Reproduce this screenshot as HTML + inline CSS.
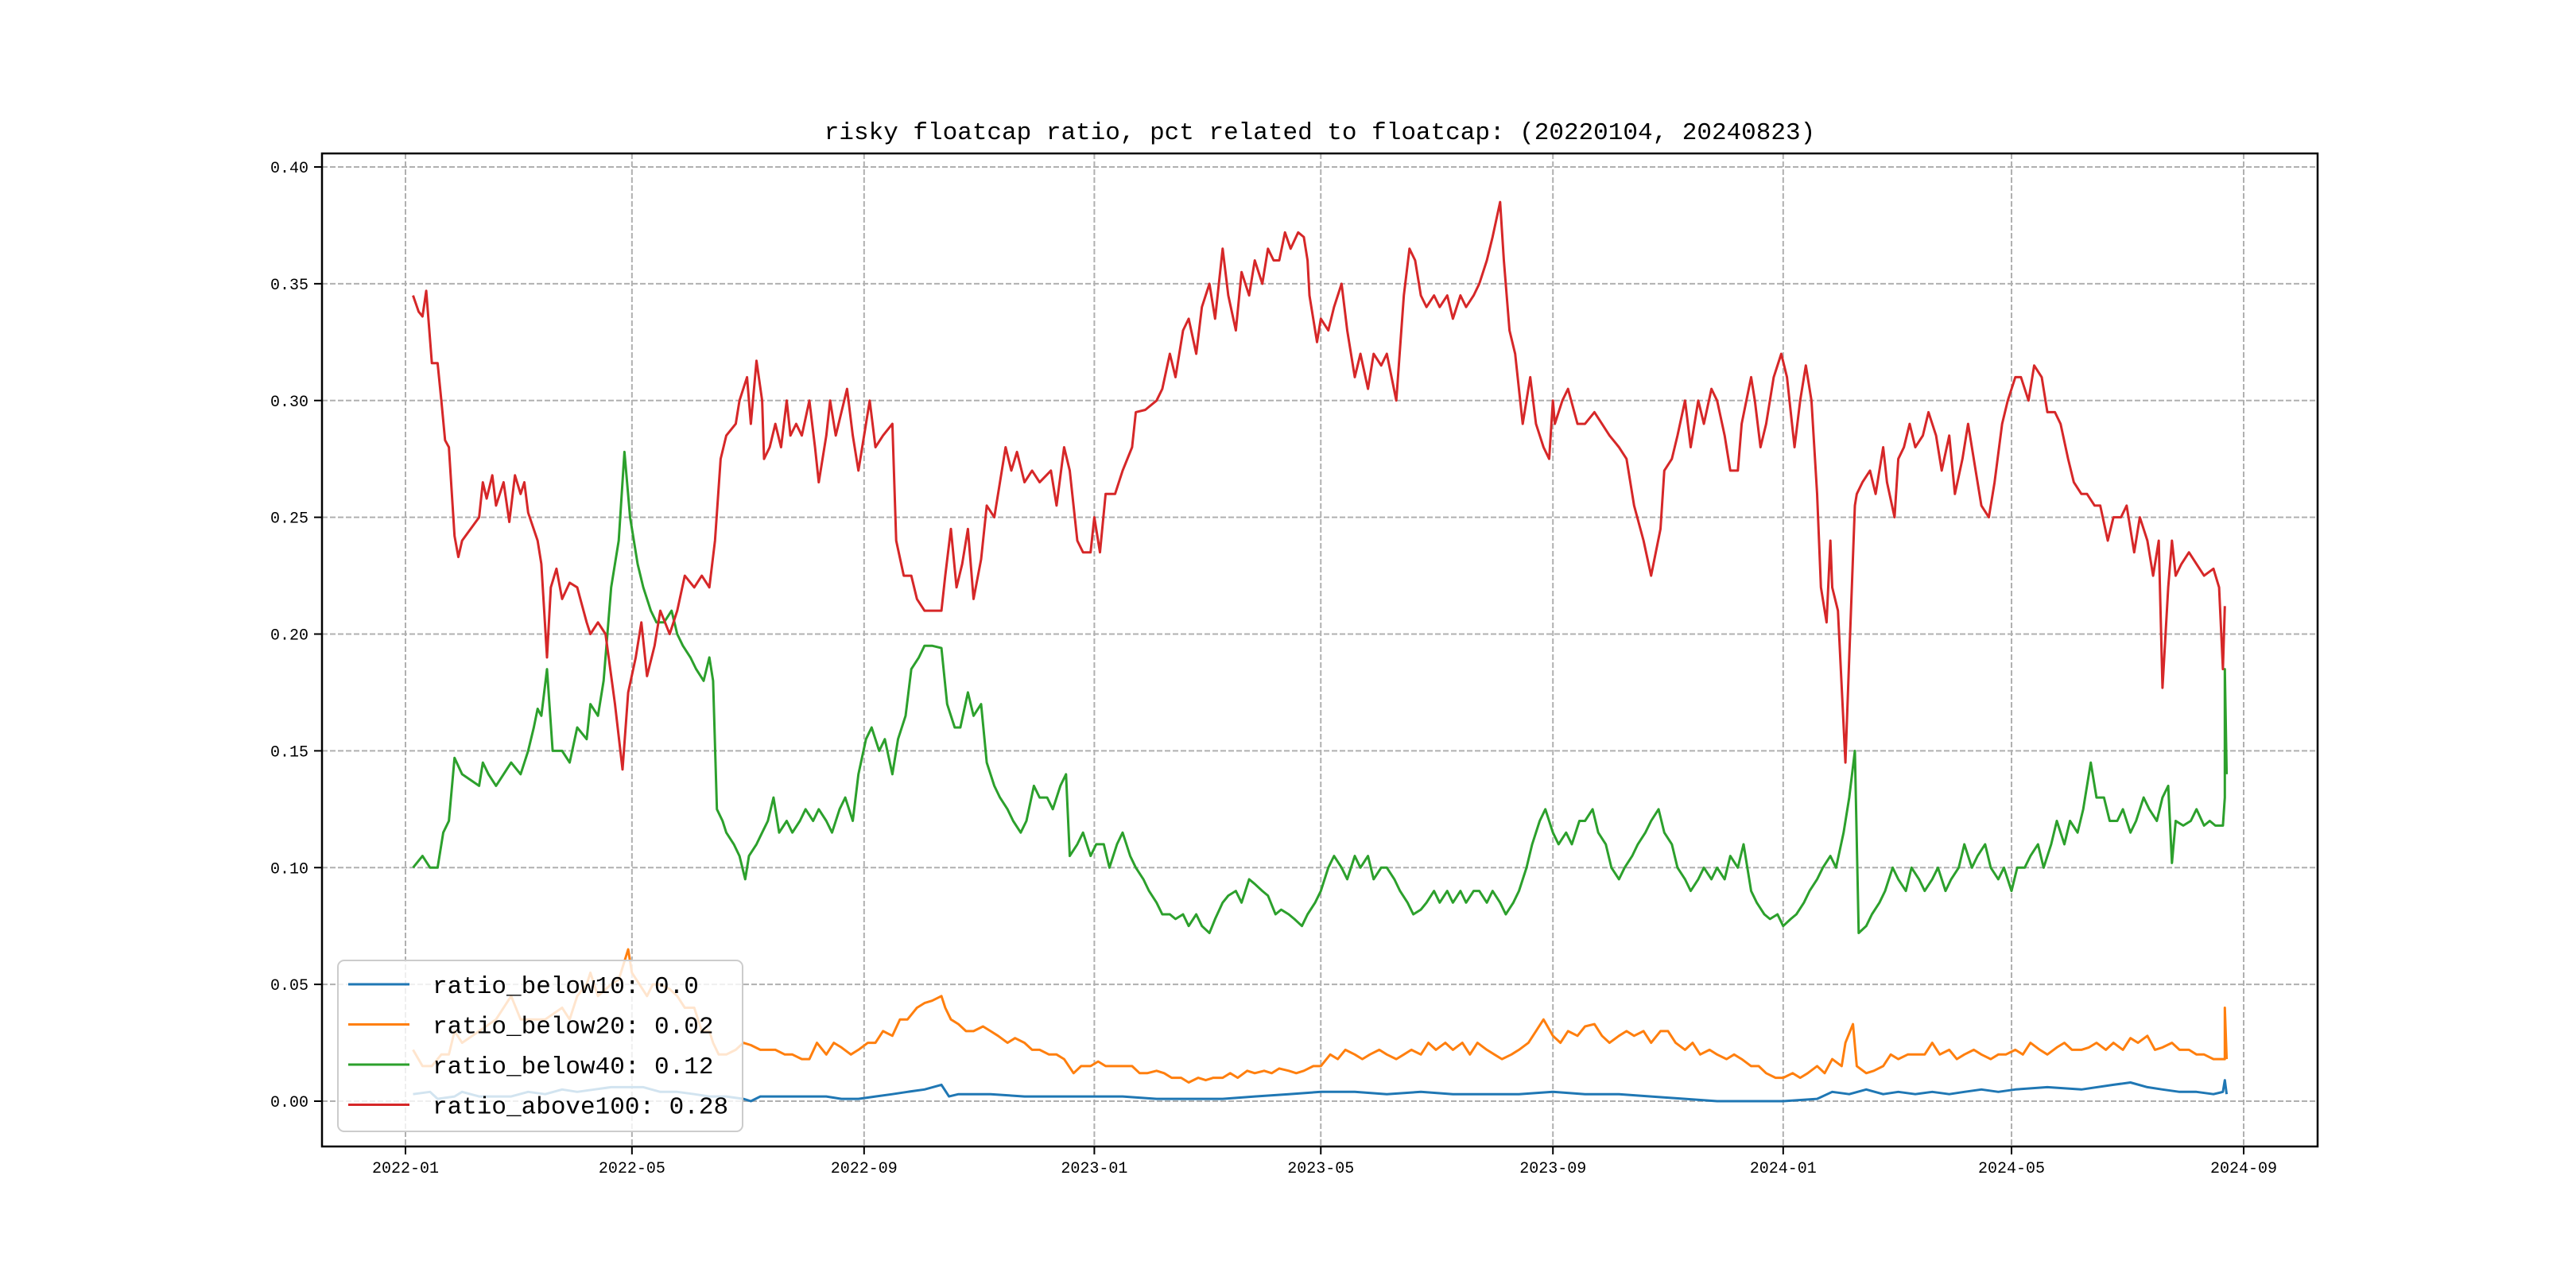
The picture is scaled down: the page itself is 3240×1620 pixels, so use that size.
<!DOCTYPE html>
<html><head><meta charset="utf-8"><style>
html,body{margin:0;padding:0;background:#fff;}
svg{display:block;}
text{font-family:"Liberation Mono","Noto Sans CJK SC",monospace;fill:#000;}
</style></head><body>
<svg id="chart" width="3240" height="1620" viewBox="0 0 3240 1620" xmlns="http://www.w3.org/2000/svg">
<rect x="0" y="0" width="3240" height="1620" fill="#fff"/>
<text x="1660" y="175" text-anchor="middle" font-size="31">risky floatcap ratio, pct related to floatcap: (20220104, 20240823)</text>
<g id="grid"></g>
<g id="series"></g>
<rect x="405" y="193" width="2510" height="1249" fill="none" stroke="#000" stroke-width="2.5"/>
<g id="axes"></g>
<g id="legend"></g>
</svg>
<script>
const xTickDays=[0,120,243,365,485,608,730,851,974];
const xTickLabels=["2022-01","2022-05","2022-09","2023-01","2023-05","2023-09","2024-01","2024-05","2024-09"];
const yTicks=[0,0.05,0.10,0.15,0.20,0.25,0.30,0.35,0.40];
const yTickLabels=["0.00","0.05","0.10","0.15","0.20","0.25","0.30","0.35","0.40"];
const seriesNames=["ratio_below10: 0.0","ratio_below20: 0.02","ratio_below40: 0.12","ratio_above100: 0.28"];
const seriesColors=["#1f77b4","#ff7f0e","#2ca02c","#d62728"];

const redDays=[4,7,9,11,14,17,19,21,23,26,28,30,39,41,43,46,48,52,55,58,61,63,65,70,72,75,77,80,83,87,91,96,98,102,106,111,115,118,122,125,128,132,135,140,144,148,153,157,161,164,167,170,175,177,181,183,186,189,190,193,196,199,202,204,207,210,214,217,219,223,225,228,231,234,237,240,244,246,249,253,258,260,264,268,271,275,279,284,286,289,292,295,298,301,305,308,312,315,318,321,324,328,332,336,342,345,349,352,356,359,363,365,368,371,376,380,385,387,392,398,401,405,408,412,415,419,422,426,429,433,436,440,443,447,450,454,457,460,463,466,469,473,476,478,479,483,485,489,492,496,499,503,506,510,513,517,520,525,529,532,535,538,541,545,548,552,555,559,562,566,569,573,576,580,582,585,588,592,596,599,603,606,608,609,613,616,621,625,630,634,638,643,647,651,656,660,665,667,671,674,678,681,685,688,692,695,699,702,706,708,713,715,718,721,725,729,732,736,739,742,745,748,750,753,755,756,759,763,765,768,769,772,776,779,783,785,789,791,794,797,800,804,807,811,814,818,821,825,828,832,835,839,842,846,849,853,856,860,863,867,870,874,877,881,884,888,891,895,898,902,905,909,912,916,919,923,926,929,931,934,936,938,941,945,949,953,958,961,963,964,965];
const redVals=[0.345,0.338,0.336,0.347,0.316,0.316,0.300,0.283,0.280,0.242,0.233,0.240,0.250,0.265,0.258,0.268,0.255,0.265,0.248,0.268,0.260,0.265,0.252,0.240,0.230,0.190,0.220,0.228,0.215,0.222,0.220,0.205,0.200,0.205,0.200,0.170,0.142,0.175,0.190,0.205,0.182,0.195,0.210,0.200,0.210,0.225,0.220,0.225,0.220,0.240,0.275,0.285,0.290,0.300,0.310,0.290,0.317,0.300,0.275,0.280,0.290,0.280,0.300,0.285,0.290,0.285,0.300,0.280,0.265,0.285,0.300,0.285,0.295,0.305,0.285,0.270,0.290,0.300,0.280,0.285,0.290,0.240,0.225,0.225,0.215,0.210,0.210,0.210,0.225,0.245,0.220,0.230,0.245,0.215,0.232,0.255,0.250,0.265,0.280,0.270,0.278,0.265,0.270,0.265,0.270,0.255,0.280,0.270,0.240,0.235,0.235,0.250,0.235,0.260,0.260,0.270,0.280,0.295,0.296,0.300,0.305,0.320,0.310,0.330,0.335,0.320,0.340,0.350,0.335,0.365,0.345,0.330,0.355,0.345,0.360,0.350,0.365,0.360,0.360,0.372,0.365,0.372,0.370,0.360,0.345,0.325,0.335,0.330,0.340,0.350,0.330,0.310,0.320,0.305,0.320,0.315,0.320,0.300,0.345,0.365,0.360,0.345,0.340,0.345,0.340,0.345,0.335,0.345,0.340,0.345,0.350,0.360,0.370,0.385,0.360,0.330,0.320,0.290,0.310,0.290,0.280,0.275,0.300,0.290,0.300,0.305,0.290,0.290,0.295,0.290,0.285,0.280,0.275,0.255,0.240,0.225,0.245,0.270,0.275,0.285,0.300,0.280,0.300,0.290,0.305,0.300,0.285,0.270,0.270,0.290,0.310,0.300,0.280,0.290,0.310,0.320,0.310,0.280,0.300,0.315,0.300,0.260,0.220,0.205,0.240,0.220,0.210,0.145,0.190,0.255,0.260,0.265,0.270,0.260,0.280,0.265,0.250,0.275,0.280,0.290,0.280,0.285,0.295,0.285,0.270,0.285,0.260,0.275,0.290,0.270,0.255,0.250,0.265,0.290,0.300,0.310,0.310,0.300,0.315,0.310,0.295,0.295,0.290,0.275,0.265,0.260,0.260,0.255,0.255,0.240,0.250,0.250,0.255,0.235,0.250,0.240,0.225,0.240,0.177,0.220,0.240,0.225,0.230,0.235,0.230,0.225,0.228,0.220,0.185,0.212];

const greenDays=[4,9,13,17,20,23,26,30,39,41,44,48,52,56,61,65,68,70,72,75,78,83,87,91,96,98,102,105,109,113,116,119,123,126,130,133,137,141,144,147,151,154,158,161,163,165,168,170,174,177,180,182,186,189,192,195,198,202,205,209,212,216,219,223,226,230,233,237,240,244,247,251,254,258,261,265,268,272,275,279,284,287,291,294,298,301,305,308,312,315,319,322,326,329,333,336,340,343,347,350,352,356,359,363,366,370,373,377,380,384,387,391,394,398,401,405,408,412,415,419,422,426,429,433,436,440,443,447,450,454,457,461,464,468,471,475,478,482,485,489,492,496,499,503,506,510,513,517,520,524,527,531,534,538,541,545,548,552,555,559,562,566,569,573,576,580,583,587,590,594,597,601,604,608,611,615,618,622,625,629,632,636,639,643,646,650,653,657,660,664,667,671,674,678,681,685,688,692,695,699,702,706,709,713,716,720,723,727,730,734,737,741,744,748,751,755,758,762,765,768,770,774,777,781,784,788,791,795,798,802,805,809,812,816,819,823,826,830,833,837,840,844,847,851,854,858,861,865,868,872,875,879,882,886,889,893,896,900,903,907,910,914,917,921,924,928,931,934,936,938,942,946,949,953,956,959,961,963,964,964,965,965];
const greenVals=[0.100,0.105,0.100,0.100,0.115,0.120,0.147,0.140,0.135,0.145,0.140,0.135,0.140,0.145,0.140,0.150,0.160,0.168,0.165,0.185,0.150,0.150,0.145,0.160,0.155,0.170,0.165,0.180,0.220,0.240,0.278,0.250,0.230,0.220,0.210,0.205,0.205,0.210,0.200,0.195,0.190,0.185,0.180,0.190,0.180,0.125,0.120,0.115,0.110,0.105,0.095,0.105,0.110,0.115,0.120,0.130,0.115,0.120,0.115,0.120,0.125,0.120,0.125,0.120,0.115,0.125,0.130,0.120,0.140,0.155,0.160,0.150,0.155,0.140,0.155,0.165,0.185,0.190,0.195,0.195,0.194,0.170,0.160,0.160,0.175,0.165,0.170,0.145,0.135,0.130,0.125,0.120,0.115,0.120,0.135,0.130,0.130,0.125,0.135,0.140,0.105,0.110,0.115,0.105,0.110,0.110,0.100,0.110,0.115,0.105,0.100,0.095,0.090,0.085,0.080,0.080,0.078,0.080,0.075,0.080,0.075,0.072,0.078,0.085,0.088,0.090,0.085,0.095,0.093,0.090,0.088,0.080,0.082,0.080,0.078,0.075,0.080,0.085,0.090,0.100,0.105,0.100,0.095,0.105,0.100,0.105,0.095,0.100,0.100,0.095,0.090,0.085,0.080,0.082,0.085,0.090,0.085,0.090,0.085,0.090,0.085,0.090,0.090,0.085,0.090,0.085,0.080,0.085,0.090,0.100,0.110,0.120,0.125,0.115,0.110,0.115,0.110,0.120,0.120,0.125,0.115,0.110,0.100,0.095,0.100,0.105,0.110,0.115,0.120,0.125,0.115,0.110,0.100,0.095,0.090,0.095,0.100,0.095,0.100,0.095,0.105,0.100,0.110,0.090,0.085,0.080,0.078,0.080,0.075,0.078,0.080,0.085,0.090,0.095,0.100,0.105,0.100,0.115,0.130,0.150,0.072,0.075,0.080,0.085,0.090,0.100,0.095,0.090,0.100,0.095,0.090,0.095,0.100,0.090,0.095,0.100,0.110,0.100,0.105,0.110,0.100,0.095,0.100,0.090,0.100,0.100,0.105,0.110,0.100,0.110,0.120,0.110,0.120,0.115,0.125,0.145,0.130,0.130,0.120,0.120,0.125,0.115,0.120,0.130,0.125,0.120,0.130,0.135,0.102,0.120,0.118,0.120,0.125,0.118,0.120,0.118,0.118,0.118,0.130,0.185,0.140,0.140];

const orangeDays=[4,9,14,19,23,26,30,39,48,56,61,65,74,83,87,91,96,98,102,109,113,118,120,124,128,131,135,140,144,148,153,157,161,163,166,170,175,179,183,188,192,196,201,205,210,214,218,223,227,231,236,240,245,249,253,258,262,266,271,275,279,284,286,289,293,297,301,306,310,314,319,323,328,332,336,341,345,349,354,358,363,367,371,376,380,385,389,393,398,402,406,411,415,420,424,428,433,437,441,446,450,455,459,463,468,472,476,481,485,490,494,498,503,507,511,516,520,525,529,533,538,542,546,551,555,560,564,568,573,577,581,586,590,595,599,603,608,612,616,621,625,630,634,638,643,647,651,656,660,665,669,673,678,682,686,691,695,700,704,708,713,717,721,726,730,735,739,743,748,752,756,761,763,767,769,774,778,783,787,791,796,800,805,809,813,818,822,826,831,835,840,844,848,853,857,861,866,870,875,879,883,888,892,896,901,905,910,914,918,923,927,931,936,940,945,949,953,958,962,964,964,965];
const orangeVals=[0.022,0.015,0.015,0.020,0.020,0.030,0.025,0.030,0.035,0.045,0.035,0.035,0.035,0.040,0.035,0.045,0.050,0.055,0.045,0.050,0.052,0.065,0.055,0.050,0.045,0.050,0.050,0.048,0.045,0.040,0.040,0.030,0.030,0.025,0.020,0.020,0.022,0.025,0.024,0.022,0.022,0.022,0.020,0.020,0.018,0.018,0.025,0.020,0.025,0.023,0.020,0.022,0.025,0.025,0.030,0.028,0.035,0.035,0.040,0.042,0.043,0.045,0.040,0.035,0.033,0.030,0.030,0.032,0.030,0.028,0.025,0.027,0.025,0.022,0.022,0.020,0.020,0.018,0.012,0.015,0.015,0.017,0.015,0.015,0.015,0.015,0.012,0.012,0.013,0.012,0.010,0.010,0.008,0.010,0.009,0.010,0.010,0.012,0.010,0.013,0.012,0.013,0.012,0.014,0.013,0.012,0.013,0.015,0.015,0.020,0.018,0.022,0.020,0.018,0.020,0.022,0.020,0.018,0.020,0.022,0.020,0.025,0.022,0.025,0.022,0.025,0.020,0.025,0.022,0.020,0.018,0.020,0.022,0.025,0.030,0.035,0.028,0.025,0.030,0.028,0.032,0.033,0.028,0.025,0.028,0.030,0.028,0.030,0.025,0.030,0.030,0.025,0.022,0.025,0.020,0.022,0.020,0.018,0.020,0.018,0.015,0.015,0.012,0.010,0.010,0.012,0.010,0.012,0.015,0.012,0.018,0.015,0.025,0.033,0.015,0.012,0.013,0.015,0.020,0.018,0.020,0.020,0.020,0.025,0.020,0.022,0.018,0.020,0.022,0.020,0.018,0.020,0.020,0.022,0.020,0.025,0.022,0.020,0.023,0.025,0.022,0.022,0.023,0.025,0.022,0.025,0.022,0.027,0.025,0.028,0.022,0.023,0.025,0.022,0.022,0.020,0.020,0.018,0.018,0.018,0.040,0.018,0.015];

const blueDays=[4,13,17,26,30,39,48,56,65,74,83,91,100,109,118,126,135,144,153,161,170,179,183,188,205,223,231,240,249,258,266,275,284,288,293,310,328,345,363,380,398,415,433,450,468,485,503,520,538,555,573,590,608,625,643,660,678,695,713,730,748,756,765,774,783,791,800,809,818,826,835,844,853,870,888,905,914,923,931,940,949,958,963,964,965];
const blueVals=[0.003,0.004,0.001,0.002,0.004,0.002,0.002,0.002,0.004,0.003,0.005,0.004,0.005,0.006,0.006,0.006,0.004,0.004,0.003,0.002,0.002,0.001,0.000,0.002,0.002,0.002,0.001,0.001,0.002,0.003,0.004,0.005,0.007,0.002,0.003,0.003,0.002,0.002,0.002,0.002,0.001,0.001,0.001,0.002,0.003,0.004,0.004,0.003,0.004,0.003,0.003,0.003,0.004,0.003,0.003,0.002,0.001,0.000,0.000,0.000,0.001,0.004,0.003,0.005,0.003,0.004,0.003,0.004,0.003,0.004,0.005,0.004,0.005,0.006,0.005,0.007,0.008,0.006,0.005,0.004,0.004,0.003,0.004,0.009,0.003];

const X0=405,X1=2915,Y0=193,Y1=1442;
function xs(d){return 510+d*(2822-510)/974;}
function ys(v){return 1385-v*(1385-210)/0.40;}
const NS="http://www.w3.org/2000/svg";
function mk(tag,attrs,parent){const e=document.createElementNS(NS,tag);for(const k in attrs)e.setAttribute(k,attrs[k]);parent.appendChild(e);return e;}
const grid=document.getElementById('grid'),axes=document.getElementById('axes'),ser=document.getElementById('series'),leg=document.getElementById('legend');

xTickDays.forEach((d,i)=>{
  const x=xs(d);
  const g=mk('line',{x1:x,x2:x,y1:Y0,y2:Y1,stroke:'#b0b0b0','stroke-width':2,'stroke-dasharray':'7,3'},grid);
  
  
  const t=mk('line',{x1:x,x2:x,y1:Y1,y2:Y1+10,stroke:'#000','stroke-width':2},axes);
  
  
  const l=mk('text',{x:x,y:1475,'text-anchor':'middle','font-size':20},axes);
  l.textContent=xTickLabels[i];
  
  
});
yTicks.forEach((v,i)=>{
  const y=ys(v);
  const g=mk('line',{x1:X0,x2:X1,y1:y,y2:y,stroke:'#b0b0b0','stroke-width':2,'stroke-dasharray':'7,3'},grid);
  
  
  const t=mk('line',{x1:X0-10,x2:X0,y1:y,y2:y,stroke:'#000','stroke-width':2},axes);
  
  
  const l=mk('text',{x:X0-17,y:y+7,'text-anchor':'end','font-size':20},axes);
  l.textContent=yTickLabels[i];
  
  
});
const allSeries=[[blueDays,blueVals],[orangeDays,orangeVals],[greenDays,greenVals],[redDays,redVals]];
const seriesKeys=['ratio-below10','ratio-below20','ratio-below40','ratio-above100'];
allSeries.forEach((s,i)=>{
  const pts=s[0].map((d,j)=>xs(d).toFixed(1)+','+ys(s[1][j]).toFixed(1)).join(' ');
  const p=mk('polyline',{points:pts,fill:'none',stroke:seriesColors[i],'stroke-width':3,'stroke-linejoin':'round'},ser);
  
  
});
const box=mk('rect',{x:425,y:1208,width:509,height:215,rx:8,fill:'rgba(255,255,255,0.8)',stroke:'#cccccc','stroke-width':2},leg);


seriesNames.forEach((n,i)=>{
  const y=1238+i*50.5;
  const ln=mk('line',{x1:438,x2:515,y1:y,y2:y,stroke:seriesColors[i],'stroke-width':3},leg);
  
  
  const t=mk('text',{x:544,y:y+11,'font-size':31},leg);
  t.textContent=n;
  
  
});
</script>
</body></html>
